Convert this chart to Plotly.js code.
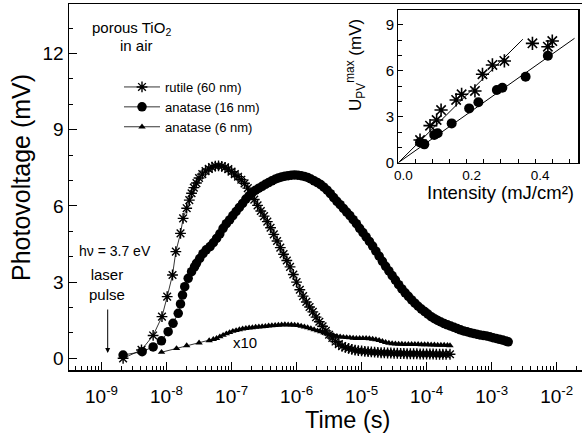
<!DOCTYPE html>
<html>
<head>
<meta charset="utf-8">
<script src="https://cdn.plot.ly/plotly-3.0.1.min.js"></script>
<style>html,body{margin:0;padding:0;background:#fff}#plot{width:582px;height:439px}</style>
</head>
<body>
<div id="plot"></div>
<script>
// ---- Main panel data (log10 of time in s, photovoltage in mV) ----
const rutileLogT = [-8.668,-8.385,-8.206,-8.07,-7.99,-7.908,-7.857,-7.785,-7.745,-7.69,-7.65,-7.615,
  -7.58,-7.54,-7.50,-7.45,-7.40,-7.35,-7.30,-7.25,-7.20,-7.15,-7.10,-7.05,-7.00,-6.95,-6.90,-6.85,-6.80,-6.75,-6.70,-6.65,-6.60,-6.55,-6.50,-6.45,-6.40,-6.35,-6.30,-6.25,-6.20,-6.15,-6.10,-6.05,-6.00,-5.95,-5.90,-5.85,-5.80,-5.75,-5.70,-5.65,-5.60,-5.55,-5.50,-5.45,-5.40,-5.35,-5.30,-5.25,-5.20,-5.15,-5.10,-5.05,-5.00,-4.95,-4.90,-4.85,-4.80,-4.75,-4.70,-4.65,-4.60,-4.55,-4.50,-4.45,-4.40,-4.35,-4.30,-4.25,-4.20,-4.15,-4.10,-4.05,-4.00,-3.95,-3.90,-3.85,-3.80,-3.75,-3.70,-3.64];
const rutileV = [0.00,0.33,0.90,1.64,2.43,3.28,4.20,4.92,5.51,5.91,6.23,6.50,
  6.72,6.90,7.10,7.25,7.37,7.46,7.53,7.57,7.58,7.56,7.52,7.45,7.35,7.25,7.15,7.03,6.89,6.70,6.50,6.25,6.02,5.80,5.60,5.38,5.14,4.88,4.62,4.36,4.10,3.85,3.60,3.30,3.00,2.70,2.45,2.22,2.02,1.83,1.62,1.44,1.26,1.08,0.93,0.80,0.66,0.56,0.48,0.43,0.39,0.35,0.32,0.30,0.29,0.27,0.26,0.25,0.24,0.23,0.22,0.22,0.21,0.21,0.20,0.20,0.19,0.19,0.18,0.18,0.18,0.18,0.17,0.17,0.17,0.17,0.17,0.16,0.16,0.16,0.16,0.16];

const anatase16LogT = [-8.668,-8.375,-8.206,-8.078,-7.975,-7.90,-7.82,-7.785,-7.754,-7.72,
  -7.667,-7.615,-7.57,-7.54,-7.49,-7.44,-7.39,-7.33,-7.28,-7.23,-7.18,-7.13,-7.08,-7.03,-6.98,-6.93,-6.88,-6.83,-6.78,-6.73,-6.68,-6.63,-6.58,-6.53,-6.48,-6.43,-6.38,-6.33,-6.28,-6.23,-6.18,-6.13,-6.08,-6.03,-5.98,-5.93,-5.88,-5.83,-5.78,-5.73,-5.68,-5.63,-5.58,-5.53,-5.48,-5.43,-5.38,-5.33,-5.28,-5.23,-5.18,-5.13,-5.08,-5.03,-4.98,-4.93,-4.88,-4.83,-4.78,-4.73,-4.68,-4.63,-4.58,-4.53,-4.48,-4.43,-4.38,-4.33,-4.28,-4.23,-4.18,-4.13,-4.08,-4.03,-3.98,-3.93,-3.88,-3.83,-3.78,-3.73,-3.68,-3.63,-3.58,-3.53,-3.48,-3.43,-3.38,-3.33,-3.28,-3.23,-3.18,-3.13,-3.08,-3.03,-2.98,-2.93,-2.88,-2.83,-2.78,-2.745];
const anatase16V = [0.13,0.26,0.45,0.69,1.05,1.38,1.77,2.14,2.49,2.82,
  3.15,3.41,3.60,3.74,3.93,4.12,4.27,4.40,4.55,4.72,4.90,5.12,5.30,5.45,5.62,5.78,5.94,6.10,6.27,6.40,6.52,6.62,6.70,6.77,6.85,6.92,6.99,7.05,7.10,7.14,7.17,7.19,7.21,7.22,7.21,7.19,7.16,7.12,7.06,6.99,6.92,6.84,6.74,6.62,6.48,6.33,6.18,6.05,5.90,5.76,5.62,5.46,5.30,5.12,4.95,4.78,4.60,4.42,4.22,4.02,3.82,3.62,3.44,3.26,3.08,2.90,2.73,2.58,2.44,2.30,2.17,2.05,1.94,1.84,1.74,1.64,1.56,1.49,1.43,1.37,1.32,1.27,1.22,1.17,1.12,1.08,1.05,1.01,0.98,0.95,0.92,0.90,0.88,0.85,0.81,0.78,0.75,0.72,0.68,0.65];

const anatase6LogT = [-8.077,-7.846,-7.69,-7.50,-7.344,
  -7.28,-7.23,-7.18,-7.13,-7.08,-7.03,-6.98,-6.93,-6.88,-6.83,-6.78,-6.73,-6.68,-6.63,-6.58,-6.53,-6.48,-6.43,-6.38,-6.33,-6.28,-6.23,-6.18,-6.13,-6.08,-6.03,-5.98,-5.93,-5.88,-5.83,-5.78,-5.73,-5.68,-5.63,-5.58,-5.53,-5.48,-5.43,-5.38,-5.33,-5.28,-5.23,-5.18,-5.13,-5.08,-5.03,-4.98,-4.93,-4.88,-4.83,-4.78,-4.73,-4.68,-4.63,-4.58,-4.53,-4.48,-4.43,-4.38,-4.33,-4.28,-4.23,-4.18,-4.13,-4.08,-4.03,-3.98,-3.93,-3.88,-3.83,-3.78,-3.73,-3.68,-3.64];
const anatase6V = [0.24,0.39,0.50,0.61,0.70,
  0.75,0.79,0.85,0.91,0.97,1.02,1.07,1.10,1.13,1.16,1.18,1.20,1.21,1.23,1.24,1.25,1.26,1.28,1.29,1.30,1.31,1.32,1.33,1.32,1.32,1.31,1.30,1.27,1.24,1.21,1.17,1.13,1.09,1.05,1.01,0.97,0.93,0.90,0.87,0.85,0.83,0.82,0.81,0.80,0.79,0.79,0.79,0.79,0.78,0.76,0.74,0.71,0.67,0.63,0.60,0.58,0.57,0.56,0.56,0.55,0.55,0.55,0.55,0.55,0.54,0.54,0.54,0.53,0.53,0.52,0.52,0.52,0.51,0.50];

const seriesNames = ["rutile (60 nm)", "anatase (16 nm)", "anatase (6 nm)"];
const xTickExp = [-9,-8,-7,-6,-5,-4,-3,-2];
const xTickText = xTickExp.map(e => "10<sup>" + e + "</sup>");
const yTickVals = [0,3,6,9,12];

// ---- Inset data (intensity mJ/cm^2, U_PV^max mV) ----
const insetRutileI = [0.0635,0.0927,0.112,0.125,0.169,0.185,0.224,0.246,0.275,0.31,0.392,0.437,0.45];
const insetRutileU = [1.48,2.42,2.79,3.44,4.10,4.47,4.69,5.78,6.39,6.65,7.80,7.58,7.95];
const insetAnataseI = [0.0635,0.076,0.105,0.115,0.156,0.207,0.234,0.288,0.304,0.372,0.437];
const insetAnataseU = [1.33,1.20,1.81,1.92,2.57,3.55,3.95,4.75,4.90,5.62,6.99];
const fitRutileI = [0, 0.364];
const fitRutileU = [0, 8.07];
const fitAnataseI = [0, 0.515];
const fitAnataseU = [0, 8.13];

const toTime = a => a.map(v => Math.pow(10, v));
const FONT = "Liberation Sans, Arial, Helvetica, sans-serif";

const traces = [
  {x: toTime(rutileLogT), y: rutileV, name: seriesNames[0], type: "scatter", mode: "lines+markers",
   line: {color: "#000", width: 0.8},
   marker: {symbol: "asterisk-open", size: 9, color: "#000", line: {color: "#000", width: 1.4}}},
  {x: toTime(anatase16LogT), y: anatase16V, name: seriesNames[1], type: "scatter", mode: "lines+markers",
   line: {color: "#000", width: 0.8},
   marker: {symbol: "circle", size: 9.5, color: "#000"}},
  {x: toTime(anatase6LogT), y: anatase6V, name: seriesNames[2], type: "scatter", mode: "lines+markers",
   line: {color: "#000", width: 0.8},
   marker: {symbol: "triangle-up", size: 6.5, color: "#000"}},
  {x: fitRutileI, y: fitRutileU, xaxis: "x2", yaxis: "y2", mode: "lines", showlegend: false,
   line: {color: "#000", width: 1}},
  {x: fitAnataseI, y: fitAnataseU, xaxis: "x2", yaxis: "y2", mode: "lines", showlegend: false,
   line: {color: "#000", width: 1}},
  {x: insetRutileI, y: insetRutileU, xaxis: "x2", yaxis: "y2", mode: "markers", showlegend: false,
   marker: {symbol: "asterisk-open", size: 11, color: "#000", line: {color: "#000", width: 1.6}}},
  {x: insetAnataseI, y: insetAnataseU, xaxis: "x2", yaxis: "y2", mode: "markers", showlegend: false,
   marker: {symbol: "circle", size: 10, color: "#000"}}
];

const W = 582, H = 439, ML = 69, MR = 0, MT = 4, MB = 69;
const PW = W - ML - MR, PH = H - MT - MB;
const px = x => (x - ML) / PW;
const py = y => (H - MB - y) / PH;

const ann = (text, x, y, size, extra) => Object.assign({
  text: text, xref: "paper", yref: "paper", x: px(x), y: py(y),
  xanchor: "left", yanchor: "middle", showarrow: false,
  font: {family: FONT, size: size, color: "#000"}
}, extra || {});

const layout = {
  width: W, height: H,
  margin: {l: ML, r: MR, t: MT, b: MB, pad: 0},
  paper_bgcolor: "#fff", plot_bgcolor: "#fff",
  font: {family: FONT, color: "#000"},
  showlegend: true,
  legend: {x: px(119), y: py(72), xanchor: "left", yanchor: "top",
    bgcolor: "rgba(0,0,0,0)", borderwidth: 0, itemwidth: 36,
    font: {family: FONT, size: 13, color: "#000"}},
  xaxis: {type: "log", range: [-9.5, -1.61], domain: [0, 1],
    showline: true, linecolor: "#000", linewidth: 1.5, mirror: true,
    showgrid: false, zeroline: false,
    tickmode: "array", tickvals: toTime(xTickExp), ticktext: xTickText,
    ticks: "inside", ticklen: 8, tickwidth: 1, tickcolor: "#000", ticklabelstandoff: 9,
    tickfont: {family: FONT, size: 19, color: "#000"},
    minor: {dtick: "D1", ticks: "inside", ticklen: 4, tickwidth: 1, tickcolor: "#000", showgrid: false}},
  yaxis: {range: [-0.46, 13.95], domain: [0, 1],
    showline: true, linecolor: "#000", linewidth: 1.5, mirror: false,
    showgrid: false, zeroline: false,
    tickmode: "array", tickvals: yTickVals,
    ticks: "inside", ticklen: 8, tickwidth: 1, tickcolor: "#000",
    tickfont: {family: FONT, size: 19, color: "#000"},
    minor: {dtick: 1, ticks: "inside", ticklen: 4, tickwidth: 1, tickcolor: "#000", showgrid: false}},
  xaxis2: {anchor: "y2", domain: [px(398.3), px(578.3)], range: [0, 0.526],
    showline: true, linecolor: "#000", linewidth: 1.3, mirror: true,
    showgrid: false, zeroline: false,
    dtick: 0.2, tick0: 0, tickformat: ".1f",
    ticks: "inside", ticklen: 4, tickwidth: 1, tickcolor: "#000", ticklabelshift: 5,
    tickfont: {family: FONT, size: 13.5, color: "#000"},
    minor: {dtick: 0.05, ticks: "inside", ticklen: 4, tickwidth: 1, tickcolor: "#000", showgrid: false}},
  yaxis2: {anchor: "x2", domain: [py(162.7), py(10)], range: [0, 9.98],
    showline: true, linecolor: "#000", linewidth: 1.3, mirror: true,
    showgrid: false, zeroline: false,
    dtick: 3, tick0: 0,
    ticks: "inside", ticklen: 5, tickwidth: 1, tickcolor: "#000",
    tickfont: {family: FONT, size: 15, color: "#000"},
    minor: {dtick: 1, ticks: "inside", ticklen: 4, tickwidth: 1, tickcolor: "#000", showgrid: false}},
  annotations: [
    ann("porous TiO<sub>2</sub>", 90, 29, 15),
    ann("in air", 118, 45, 15),
    ann("h\u03bd = 3.7 eV", 77, 251, 14),
    ann("laser<br>pulse", 107, 284, 15, {xanchor: "center"}),
    {text: "", xref: "paper", yref: "paper", x: px(107.7), y: py(353), ax: 0, ay: -45,
     showarrow: true, arrowhead: 2, arrowsize: 1, arrowwidth: 1, arrowcolor: "#000"},
    ann("x10", 245, 342, 15, {xanchor: "center"}),
    ann("Time (s)", 347, 420, 23.5, {xanchor: "center"}),
    ann("Photovoltage (mV)", 21, 178, 25, {xanchor: "center", textangle: -90}),
    ann("Intensity (mJ/cm\u00b2)", 500, 192.5, 18.5, {xanchor: "center"}),
    ann("U<sub>PV</sub><sup>max</sup> (mV)", 356, 65, 17, {xanchor: "center", textangle: -90})
  ]
};

Plotly.newPlot("plot", traces, layout, {displayModeBar: false, staticPlot: true});
</script>
</body>
</html>
